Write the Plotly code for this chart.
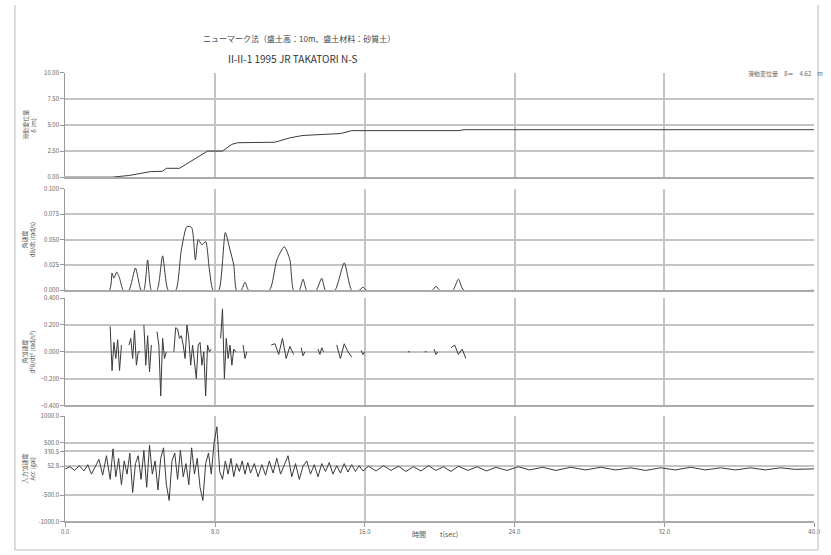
import plotly.graph_objects as go
from plotly.subplots import make_subplots

title1 = "ニューマーク法（盛土高：10m、盛土材料：砂質土）"
title2 = "II-II-1 1995 JR TAKATORI N-S"
note_text = "滑動変位量　δ＝　4.62　m"
x_title = "時間　　t(sec)"

# Panel 1: sliding displacement (m)
disp_t = [0, 2.5, 3.4, 3.9, 4.55, 5.2, 5.4, 6.1, 6.9, 7.6, 8.4, 8.9, 9.2, 11.2, 12.0, 12.7, 14.7, 15.3, 21.0, 21.3, 40]
disp_v = [0, 0, 0.16, 0.31, 0.53, 0.57, 0.85, 0.85, 1.73, 2.5, 2.5, 3.15, 3.3, 3.35, 3.77, 4.0, 4.18, 4.46, 4.46, 4.55, 4.55]

# Panel 2: angular velocity (rad/s)
vel_t = [0, 2.35, 2.5, 2.6, 2.75, 2.9, 3.1, 3.4, 3.75, 4.05, 4.2, 4.4, 4.6, 4.9, 5.2, 5.5, 5.9, 6.2, 6.5, 6.75, 6.95, 7.1, 7.3, 7.5, 7.7, 7.9, 8.2, 8.55, 8.8, 9.0, 9.15, 9.4, 9.6, 9.8, 10.9, 11.3, 11.7, 12.0, 12.2, 12.5, 12.7, 12.9, 13.4, 13.7, 13.9, 14.4, 14.9, 15.3, 15.7, 15.9, 16.1, 19.6, 19.8, 20.0, 20.7, 21.0, 21.3, 40]
vel_v = [0, 0, 0.017, 0.012, 0.018, 0.012, 0, 0, 0.022, 0, 0, 0.030, 0, 0, 0.034, 0, 0, 0.04, 0.063, 0.062, 0.03, 0.05, 0.045, 0.048, 0.02, 0, 0, 0.057, 0.04, 0.025, 0, 0, 0.008, 0, 0, 0.03, 0.043, 0.03, 0, 0, 0.011, 0, 0, 0.012, 0, 0, 0.027, 0, 0, 0.003, 0, 0, 0.004, 0, 0, 0.011, 0, 0]

# Panel 3: angular acceleration (rad/s^2), None where not sliding
acc_t = [2.4, 2.5, 2.6, 2.7, 2.8, 2.9, 3.0, None, 3.4, 3.5, 3.6, 3.7, 3.8, 3.9, 4.0, None, 4.2, 4.3, 4.4, 4.5, 4.6, None, 4.9, 5.0, 5.1, 5.2, 5.3, 5.4, None, 5.8, 5.9, 6.0, 6.1, 6.2, 6.3, 6.4, 6.5, 6.6, 6.7, 6.8, 6.9, 7.0, 7.1, 7.2, 7.3, 7.4, 7.5, 7.6, 7.7, 7.8, None, 8.3, 8.4, 8.5, 8.6, 8.7, 8.8, 8.9, 9.0, 9.1, None, 9.5, 9.6, 9.7, None, 11.0, 11.2, 11.4, 11.6, 11.8, 12.0, 12.2, None, 12.6, 12.7, 12.8, None, 13.5, 13.6, 13.7, 13.8, None, 14.5, 14.7, 14.9, 15.1, 15.3, None, 15.8, 15.9, 16.0, None, 18.3, 18.4, None, 19.2, 19.3, None, 19.7, 19.8, 19.9, None, 20.6, 20.8, 21.0, 21.2, 21.4]
acc_v = [0.19, -0.14, 0.07, -0.05, 0.09, -0.14, 0.05, None, 0.05, 0.1, -0.05, 0.16, -0.1, 0.0, 0.0, None, 0.2, -0.1, 0.12, -0.15, 0.05, None, 0.15, 0.05, -0.33, 0.1, -0.05, 0.0, None, 0.0, 0.18, 0.17, 0.1, 0.12, 0.05, -0.05, 0.2, 0.1, -0.1, 0.05, -0.1, -0.2, 0.05, 0.07, -0.1, 0.0, -0.33, 0.05, 0.0, 0.02, None, 0.1, 0.32, -0.2, 0.1, -0.05, 0.05, -0.1, 0.02, 0.0, None, 0.05, -0.05, 0.0, None, 0.05, 0.06, -0.02, 0.1, -0.05, 0.04, -0.02, None, 0.03, -0.03, 0.0, None, 0.02, -0.02, 0.03, 0.0, None, 0.05, -0.05, 0.06, 0.0, -0.04, None, 0.01, -0.02, 0.0, None, 0.0, 0.0, None, 0.0, 0.0, None, 0.02, -0.02, 0.0, None, 0.03, 0.05, -0.02, 0.02, -0.05]

# Panel 4: input acceleration (gal)
inp_t = [0.0, 0.25, 0.5, 0.75, 1.0, 1.2, 1.4, 1.6, 1.8, 2.0, 2.2, 2.4, 2.55, 2.7, 2.85, 3.0, 3.15, 3.3, 3.45, 3.6,
         3.75, 3.9, 4.05, 4.2, 4.35, 4.5, 4.65, 4.8, 4.95, 5.1, 5.25, 5.4, 5.55, 5.7, 5.85, 6.0, 6.15, 6.3, 6.45, 6.6,
         6.75, 6.9, 7.05, 7.2, 7.35, 7.5, 7.65, 7.8, 7.95, 8.1, 8.25, 8.4, 8.55, 8.7, 8.85, 9.0, 9.15, 9.3, 9.45, 9.6,
         9.75, 9.9, 10.1, 10.3, 10.5, 10.7, 10.9, 11.1, 11.3, 11.5, 11.7, 11.9, 12.1, 12.3, 12.5, 12.7, 12.9, 13.1, 13.3, 13.5,
         13.7, 13.9, 14.1, 14.3, 14.5, 14.7, 14.9, 15.1, 15.3, 15.5, 15.7, 15.9, 16.2, 16.6, 17.0, 17.4, 17.8, 18.2, 18.6, 19.0,
         19.4, 19.8, 20.2, 20.6, 21.0, 21.5, 22.0, 22.5, 23.0, 23.6, 24.2, 24.8, 25.5, 26.2, 27.0, 27.8, 28.6, 29.4, 30.2, 31.0,
         31.8, 32.6, 33.4, 34.2, 35.0, 35.8, 36.6, 37.4, 38.2, 39.0, 40.0]
inp_v = [0, 40, -30, 60, -40, 80, -100, 50, 180, -120, 250, -200, 380, -150, 200, -300, 150, -100, 300, -450,
         100, 250, -200, 350, -350, 450, -100, 150, -400, 200, 400, -300, -600, 150, 300, -200, 350, -150, 100, -300,
         400, -100, 200, -350, -600, 100, 300, -100, 500, 800, -50, -200, 150, -100, 200, -150, 100, -50, 150, -100,
         120, -80, 100, -150, 80, -120, 150, -80, 200, -100, 80, 250, -150, 100, -200, 50, 150, -100, 80, -150,
         100, -50, 120, -100, 60, -80, 100, -60, 80, -50, 60, -40, 50, -40, 60, -30, 50, -50, 40, -40,
         60, -30, 40, -50, 50, -30, 40, -40, 30, -30, 40, -20, 30, -30, 30, -20, 30, -20, 20, -30,
         20, -20, 30, -20, 20, -20, 20, -20, 20, -10, 0]

fig = make_subplots(rows=4, cols=1, shared_xaxes=False)

line = dict(color="#3a3a3a", width=1)
fig.add_trace(go.Scatter(x=disp_t, y=disp_v, mode="lines", line=line, showlegend=False), row=1, col=1)
fig.add_trace(go.Scatter(x=vel_t, y=vel_v, mode="lines", line=dict(color="#3a3a3a", width=1, shape="spline", smoothing=0.6), showlegend=False), row=2, col=1)
fig.add_trace(go.Scatter(x=acc_t, y=acc_v, mode="lines", line=line, connectgaps=False, showlegend=False), row=3, col=1)
fig.add_trace(go.Scatter(x=inp_t, y=inp_v, mode="lines", line=line, showlegend=False), row=4, col=1)

W, H = 831, 555
xdom = [62 / W, 820 / W]
ydoms = [(69, 175), (187, 290), (298, 407), (418, 525)]
grid = "#c4c4c4"
tickfont = dict(family="Noto Sans CJK JP", size=6, color="#666")

for i, (top, bot) in enumerate(ydoms, start=1):
    xa = "xaxis" if i == 1 else f"xaxis{i}"
    ya = "yaxis" if i == 1 else f"yaxis{i}"
    fig.layout[xa].update(domain=xdom, range=[0, 40], dtick=8, tick0=0, showgrid=True, gridcolor=grid, gridwidth=1.5,
                          showticklabels=(i == 4), tickformat=".1f", tickfont=tickfont, ticks="outside" if i == 4 else "",
                          ticklen=4, tickcolor="#999", showline=True, linecolor="#aaa", linewidth=1.5, mirror=False, zeroline=False)
    fig.layout[ya].update(domain=[1 - bot / H, 1 - top / H], showgrid=True, gridcolor=grid, gridwidth=1.5, tickfont=tickfont,
                          ticks="outside", ticklen=4, tickcolor="#999", showline=True, linecolor="#999", linewidth=1, zeroline=False)

fig.layout.yaxis.update(range=[0, 10], dtick=2.5, tickformat=".2f")
fig.layout.yaxis2.update(range=[0, 0.1], dtick=0.025, tickformat=".3f")
fig.layout.yaxis3.update(range=[-0.4, 0.4], dtick=0.2, tickformat=".3f")
fig.layout.yaxis4.update(range=[-1000, 1000], tickvals=[-1000, -500, 52.8, 330.5, 500, 1000],
                         ticktext=["-1000.0", "-500.0", "52.8", "330.5", "500.0", "1000.0"])

ylabels = [("滑動変位量", "δ (m)"), ("角速度", "dθ/dt (rad/s)"), ("角加速度", "d²θ/dt² (rad/s²)"), ("入力加速度", "Acc (gal)")]
anns = []
lab_font = dict(family="Noto Sans CJK JP", size=6, color="#555")
for (top, bot), (a, b) in zip(ydoms, ylabels):
    yc = 1 - (top + bot) / 2 / H
    anns.append(dict(text=a, x=21 / W, y=yc, xref="paper", yref="paper", xanchor="center", yanchor="middle",
                     textangle=-90, showarrow=False, font=lab_font))
    anns.append(dict(text=b, x=29 / W, y=yc, xref="paper", yref="paper", xanchor="center", yanchor="middle",
                     textangle=-90, showarrow=False, font=lab_font))
anns.append(dict(text=title1, x=299 / W, y=1 - 26 / H, xref="paper", yref="paper", showarrow=False,
                 font=dict(family="Noto Sans CJK JP", size=8, color="#444")))
anns.append(dict(text=title2, x=292 / W, y=1 - 45 / H, xref="paper", yref="paper", showarrow=False,
                 font=dict(family="Noto Sans CJK JP", size=10, color="#333")))
anns.append(dict(text=note_text, x=831 / W, y=1 - 63 / H, xref="paper", yref="paper", xanchor="right", showarrow=False,
                 font=dict(family="Noto Sans CJK JP", size=6, color="#666")))
anns.append(dict(text=x_title, x=436 / W, y=1 - 545 / H, xref="paper", yref="paper", showarrow=False,
                 font=dict(family="Noto Sans CJK JP", size=7, color="#555")))

border = dict(color="#d0d0d0", width=1.5)
fig.update_layout(width=W, height=H, margin=dict(l=0, r=0, t=0, b=0), plot_bgcolor="white", paper_bgcolor="white",
                  annotations=anns, showlegend=False,
                  shapes=[dict(type="line", xref="paper", yref="paper", x0=11 / W, x1=11 / W, y0=1 / H, y1=1, line=border),
                          dict(type="line", xref="paper", yref="paper", x0=824 / W, x1=824 / W, y0=1 / H, y1=1, line=border),
                          dict(type="line", xref="paper", yref="paper", x0=11 / W, x1=824 / W, y0=1 / H, y1=1 / H, line=border)])

fig.write_html("out.html", config={"displayModeBar": False},
               post_script="document.body.style.margin='0px';document.body.style.overflow='hidden';")
